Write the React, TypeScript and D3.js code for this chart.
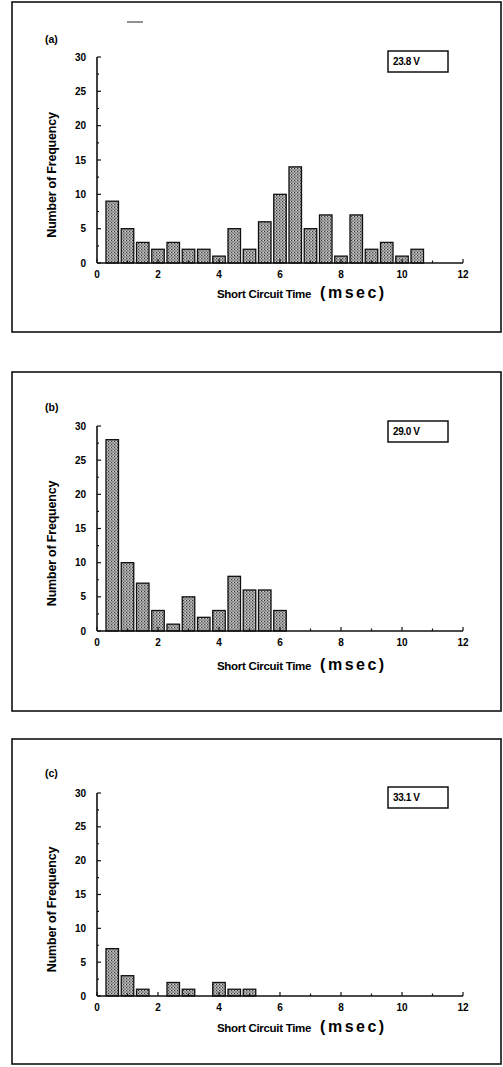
import * as React from 'react';
import {range, scaleLinear} from 'd3';

// bin centres (msec) shared by all three histograms
const binCenters = [0.5, 1, 1.5, 2, 2.5, 3, 3.5, 4, 4.5, 5, 5.5, 6, 6.5, 7, 7.5, 8, 8.5, 9, 9.5, 10, 10.5];

const countsA = [9, 5, 3, 2, 3, 2, 2, 1, 5, 2, 6, 10, 14, 5, 7, 1, 7, 2, 3, 1, 2];
const countsB = [28, 10, 7, 3, 1, 5, 2, 3, 8, 6, 6, 3];
const countsC = [7, 3, 1, 0, 2, 1, 0, 2, 1, 1];

const panelTags = ['(a)', '(b)', '(c)'];
const voltages = ['23.8 V', '29.0 V', '33.1 V'];
const xTicks = [0, 2, 4, 6, 8, 10, 12];
const yTicks = [0, 5, 10, 15, 20, 25, 30];

const W = 503;
const H = 1067;
const FONT = '"Liberation Sans", Arial, sans-serif';

// frame / plot geometry for each panel (pixels)
const layout = [
    {top: 2, bottom: 332, yTop: 57, yZero: 263, tagY: 43, legY: 51, labelY: 298},
    {top: 372, bottom: 711, yTop: 426, yZero: 631, tagY: 411, legY: 421, labelY: 670},
    {top: 739, bottom: 1064, yTop: 793, yZero: 996, tagY: 777, legY: 787, labelY: 1032},
];
const series = [countsA, countsB, countsC];

const xScale = scaleLinear().domain([0, 12]).range([97, 463]);
const barHalf = 0.205;

function Panel({idx}: {idx: number}) {
    const L = layout[idx];
    const counts = series[idx];
    const yScale = scaleLinear().domain([0, 30]).range([L.yZero, L.yTop]);
    const x0 = xScale(0);
    const pid = `half-${idx}`;
    return (
        <g>
            <defs>
                <pattern id={pid} width={3} height={3} patternUnits="userSpaceOnUse">
                    <rect width={3} height={3} fill="#a6a6a6"/>
                    <rect x={0} y={0} width={1} height={1} fill="#3a3a3a"/>
                    <rect x={1.5} y={1.5} width={1} height={1} fill="#4a4a4a"/>
                    <rect x={2} y={0} width={1} height={1} fill="#d0d0d0"/>
                </pattern>
            </defs>
            <rect x={12} y={L.top} width={489} height={L.bottom - L.top}
                  fill="none" stroke="#111" strokeWidth={1.6}/>
            <text x={45} y={L.tagY} fontFamily={FONT} fontWeight="bold" fontSize={10.5}>{panelTags[idx]}</text>

            {/* legend */}
            <rect x={388} y={L.legY} width={60} height={21} fill="#fff" stroke="#111" strokeWidth={1.5}/>
            <text x={393} y={L.legY + 14} fontFamily={FONT} fontWeight="bold" fontSize={10}
                  letterSpacing={-0.4}>{voltages[idx]}</text>

            {/* bars */}
            {counts.map((c, i) => c > 0 ? (
                <rect key={i}
                      x={xScale(binCenters[i] - barHalf)}
                      y={yScale(c)}
                      width={xScale(binCenters[i] + barHalf) - xScale(binCenters[i] - barHalf)}
                      height={yScale(0) - yScale(c)}
                      fill={`url(#${pid})`} stroke="#111" strokeWidth={1.3}/>
            ) : null)}

            {/* y axis */}
            <line x1={x0} x2={x0} y1={yScale(0)} y2={yScale(30)} stroke="#111" strokeWidth={1.6}/>
            {range(0, 30.01, 2.5).map(v => (
                <line key={v} x1={x0} x2={x0 + (v % 5 === 0 ? 4 : 2)} y1={yScale(v)} y2={yScale(v)}
                      stroke="#111" strokeWidth={1.2}/>
            ))}
            {yTicks.map(v => (
                <text key={v} x={x0 - 11} y={yScale(v) + 3.5} textAnchor="end" fontFamily={FONT}
                      fontWeight="bold" fontSize={10}>{v}</text>
            ))}

            {/* x axis */}
            <line x1={x0} x2={xScale(12)} y1={L.yZero} y2={L.yZero} stroke="#111" strokeWidth={1.6}/>
            {range(0, 12.01, 1).map(v => (
                <line key={v} x1={xScale(v)} x2={xScale(v)} y1={L.yZero} y2={L.yZero - (v % 2 === 0 ? 4 : 2.5)}
                      stroke="#111" strokeWidth={1.2}/>
            ))}
            {xTicks.map(v => (
                <text key={v} x={xScale(v)} y={L.yZero + 15} textAnchor="middle" fontFamily={FONT}
                      fontWeight="bold" fontSize={10}>{v}</text>
            ))}

            {/* axis titles */}
            <text x={217} y={L.labelY} fontFamily={FONT} fontWeight="bold" fontSize={11.5}
                  letterSpacing={-0.3}>
                Short Circuit Time
                <tspan dx={9} fontSize={16} letterSpacing={2.5}>(msec)</tspan>
            </text>
            <text transform={`translate(56,${(L.yTop + L.yZero) / 2 + 15}) rotate(-90)`} textAnchor="middle"
                  fontFamily={FONT} fontWeight="bold" fontSize={12.5} letterSpacing={-0.2}>
                Number of Frequency
            </text>
        </g>
    );
}

export default function App() {
    return (
        <div style={{position: 'absolute', left: 0, top: 0}}>
            <svg width={W} height={H} style={{display: 'block', background: '#fff'}}>
                {/* stray scan mark at top of panel (a) */}
                <line x1={127} x2={143} y1={22} y2={22} stroke="#222" strokeWidth={1}/>
                {layout.map((_, i) => <Panel key={i} idx={i}/>)}
            </svg>
        </div>
    );
}
